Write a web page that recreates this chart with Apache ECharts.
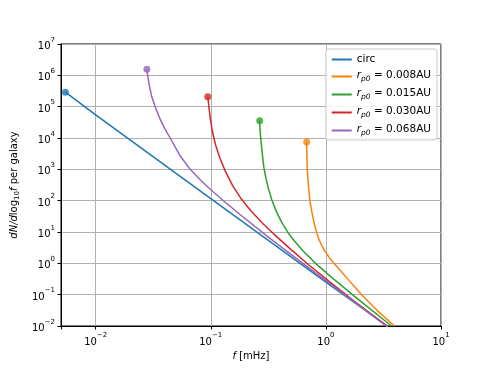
<!DOCTYPE html>
<html>
<head>
<meta charset="utf-8">
<script src="https://cdn.jsdelivr.net/npm/echarts@6/dist/echarts.min.js"></script>
<style>
  html, body { margin: 0; padding: 0; background: #fff; }
  #charts { width: 490px; height: 368px; }
</style>
</head>
<body>
<div id="charts"></div>
<script>
    // values (f in mHz, dN/dlog10 f per galaxy)
    var seriesNames = ['circ', '0.008AU', '0.015AU', '0.030AU', '0.068AU'];
    var colors = ['#1f77b4', '#ff7f0e', '#2ca02c', '#d62728', '#9467bd'];

    var circF = [0.00546, 0.01, 0.1, 1, 3.4];
    var circN = [2.9e5, 5.5e4, 117, 0.25, 0.01];

    var rp008F = [0.6808, 0.6823, 0.6855, 0.6887, 0.7047, 0.7261, 0.7499, 0.7762, 0.8035, 0.8318, 0.865, 0.912, 0.9772, 1.0715, 1.202, 1.567, 2.042, 2.786, 3.936];
    var rp008N = [7410, 3981, 1995, 1000, 316, 100, 50.1, 26.3, 15.1, 9.55, 6.17, 3.98, 2.51, 1.514, 0.912, 0.302, 0.1, 0.0316, 0.01];

    var rp015F = [0.2661, 0.2673, 0.2692, 0.2716, 0.2767, 0.2831, 0.2897, 0.302, 0.3162, 0.3388, 0.3715, 0.4169, 0.471, 0.5309, 0.631, 0.8128, 1.122, 1.786, 3.715];
    var rp015N = [35500, 22400, 14100, 10000, 5010, 2240, 1122, 501, 251, 107, 44.7, 19.1, 9.33, 5.25, 2.51, 1.0, 0.355, 0.0871, 0.01];

    var rp030F = [0.0942, 0.0953, 0.0966, 0.0993, 0.1035, 0.1096, 0.1189, 0.1334, 0.1549, 0.182, 0.2239, 0.2818, 0.3491, 0.5012, 0.7161, 1.122, 1.726, 3.631];
    var rp030N = [2.09e5, 1.41e5, 8.91e4, 3.98e4, 1.58e4, 6310, 2512, 891, 302, 120, 46.8, 19.1, 8.91, 2.69, 0.871, 0.229, 0.0661, 0.00832];

    var rp068F = [0.02786, 0.02805, 0.02831, 0.02917, 0.03055, 0.03289, 0.03631, 0.03981, 0.04436, 0.0537, 0.06622, 0.08128, 0.1, 0.1312, 0.1795, 0.3162, 0.631, 1.585, 3.467];
    var rp068N = [1.55e6, 1.26e6, 1e6, 5.01e5, 2.24e5, 1e5, 3.98e4, 2.0e4, 1e4, 2818, 1000, 457, 224, 94.4, 36.1, 6.87, 0.991, 0.0794, 0.00904];

    var xs = [circF, rp008F, rp015F, rp030F, rp068F];
    var ys = [circN, rp008N, rp015N, rp030N, rp068N];

    function pairs(a, b) {
        var out = [];
        for (var i = 0; i < a.length; i++) out.push([a[i], b[i]]);
        return out;
    }

    function powLabel(v) {
        var l = Math.log10(v);
        var e = Math.round(l);
        if (Math.abs(l - e) > 1e-6) return '';
        return '{b|10}{e|' + (e < 0 ? '\u2212' + (-e) : e) + '}';
    }

    var powRich = {
        b: { fontSize: 10, color: '#000', fontFamily: 'DejaVu Sans', padding: [5, 0, 0, 0], verticalAlign: 'bottom' },
        e: { fontSize: 7, color: '#000', fontFamily: 'DejaVu Sans', verticalAlign: 'top' }
    };

    var series = [];
    for (var k = 0; k < seriesNames.length; k++) {
        series.push({
            name: seriesNames[k],
            type: 'line',
            data: pairs(xs[k], ys[k]),
            symbol: 'none',
            lineStyle: { width: 1.5, color: colors[k], join: 'round' },
            itemStyle: { color: colors[k] },
            z: 3
        });
        // start point of each curve
        series.push({
            type: 'scatter',
            data: [[xs[k][0], ys[k][0]]],
            symbolSize: 7,
            itemStyle: { color: colors[k] },
            z: 4
        });
    }

    var myChart = echarts.init(document.getElementById('charts'));
    myChart.setOption({
        animation: false,
        textStyle: { fontFamily: 'DejaVu Sans' },
        grid: { left: 61, right: 49, top: 44, bottom: 42, show: true, borderColor: '#000', borderWidth: 1 },
        legend: {
            data: seriesNames,
            orient: 'vertical',
            right: 53,
            top: 49,
            icon: 'rect',
            backgroundColor: 'rgba(255,255,255,0.85)',
            borderColor: '#cccccc',
            borderWidth: 1,
            borderRadius: 3,
            padding: [5, 6, 3, 6],
            itemWidth: 20,
            itemHeight: 2,
            itemGap: 5,
            textStyle: {
                fontSize: 10.5,
                color: '#000',
                rich: {
                    i: { fontSize: 10.5, fontStyle: 'italic', verticalAlign: 'top' },
                    s: { fontSize: 7.5, fontStyle: 'italic', verticalAlign: 'bottom', padding: [5, 0, 0, 0] },
                    t: { fontSize: 10.5, verticalAlign: 'top' }
                }
            },
            formatter: function (n) {
                if (n === 'circ') return n;
                return '{i|r}{s|p0}{t| = ' + n + '}';
            }
        },
        xAxis: {
            type: 'log',
            logBase: 10,
            min: 0.005,
            max: 10,
            name: '{i|f}{t| [mHz]}',
            nameLocation: 'middle',
            nameGap: 25,
            nameTextStyle: {
                rich: {
                    i: { fontSize: 10, fontStyle: 'italic', color: '#000' },
                    t: { fontSize: 10, color: '#000' }
                }
            },
            axisLine: { show: true, lineStyle: { color: '#000', width: 1 } },
            axisTick: { show: true, length: 3.5, lineStyle: { color: '#000' } },
            axisLabel: { margin: 6, formatter: powLabel, rich: powRich },
            splitLine: { show: true, lineStyle: { color: '#b0b0b0', width: 1 } }
        },
        yAxis: {
            type: 'log',
            logBase: 10,
            min: 0.01,
            max: 1e7,
            name: '{i|dN/d}{t|log}{s|10}{i|f}{t| per galaxy}',
            nameLocation: 'middle',
            nameGap: 37,
            nameRotate: 90,
            nameTextStyle: {
                rich: {
                    i: { fontSize: 10, fontStyle: 'italic', color: '#000', verticalAlign: 'top' },
                    t: { fontSize: 10, color: '#000', verticalAlign: 'top' },
                    s: { fontSize: 7, color: '#000', verticalAlign: 'bottom', padding: [5, 0, 0, 0] }
                }
            },
            axisLine: { show: true, lineStyle: { color: '#000', width: 1 } },
            axisTick: { show: true, length: 3.5, lineStyle: { color: '#000' } },
            axisLabel: { margin: 6, formatter: powLabel, rich: powRich },
            splitLine: { show: true, lineStyle: { color: '#b0b0b0', width: 1 } }
        },
        series: series
    });
</script>
</body>
</html>
